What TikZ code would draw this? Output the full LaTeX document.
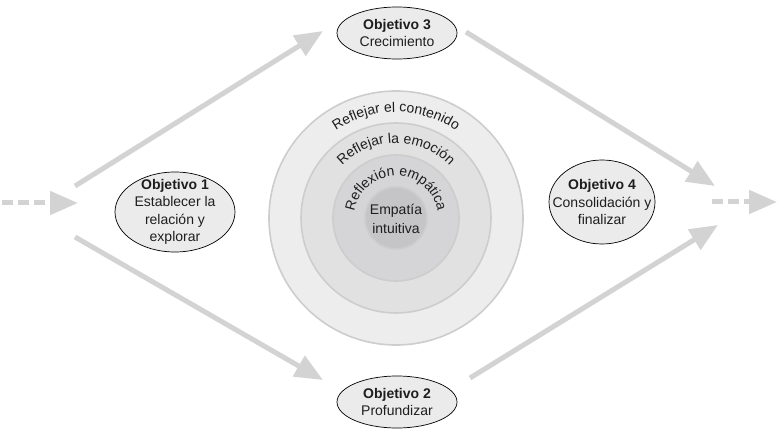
\documentclass[tikz,border=0pt]{standalone}
\usepackage{fontspec}
\setmainfont{Liberation Sans}
\usetikzlibrary{shapes.geometric,arrows.meta,decorations.text}

\definecolor{flowgray}{HTML}{D3D3D3}
\definecolor{ringA}{HTML}{EDEDED}
\definecolor{ringB}{HTML}{E1E1E2}
\definecolor{ringC}{HTML}{D5D5D7}
\definecolor{ringD}{HTML}{C5C5C7}
\definecolor{ringedge}{HTML}{CDCDCD}
\definecolor{goalfill}{HTML}{EBEBEB}
\definecolor{inktext}{HTML}{1E1E1E}

\newcommand{\labelfont}{\fontsize{14}{17.5}\selectfont}

\tikzset{
  goal/.style={ellipse, draw=black, line width=0.7pt, fill=goalfill, inner sep=0pt},
  goaltext/.style={align=center, text=inktext, font=\labelfont, inner sep=0pt},
  flow/.style={draw=flowgray, line width=5pt, -{Triangle[length=28pt,width=23pt]}},
  flowdash/.style={flow, dash pattern=on 11pt off 5pt},
  ring/.style={draw=ringedge, line width=1.6pt},
  ringlabel/.style={decorate, decoration={text along path, text align=center,
      text color=inktext}}
}

\begin{document}
\begin{tikzpicture}[x=1pt,y=-1pt]
  \useasboundingbox[fill=white] (0,0) rectangle (778,430);

  % concentric levels of reflection
  \coordinate (c) at (396,218);
  \fill[ringA] (c) circle[radius=127];
  \draw[ring] (c) circle[radius=127];
  \fill[ringB] (c) circle[radius=95];
  \draw[ring] (c) circle[radius=95];
  \fill[ringC] (c) circle[radius=63];
  \draw[ring] (c) circle[radius=63];
  \fill[ringD] (c) circle[radius=31];
  \draw[ring] (c) circle[radius=31];

  \path[ringlabel, decoration={text={|\labelfont|Reflejar el contenido}}]
    (c) ++(180:106) arc[start angle=180, end angle=360, radius=106];
  \path[ringlabel, decoration={text={|\labelfont|Reflejar la emoción}}]
    (c) ++(180:75) arc[start angle=180, end angle=360, radius=75];
  \path[ringlabel, decoration={text={|\labelfont|Reflexión empática}}]
    (c) ++(180:42) arc[start angle=180, end angle=360, radius=42];
  \node[goaltext, font=\fontsize{14}{19}\selectfont] (core) at (396,219) {Empatía\\intuitiva};

  % goals
  \node[goal, minimum width=120pt, minimum height=80pt] (o1) at (175,212) {};
  \node[goaltext] (o1t) at (o1) {\textbf{Objetivo 1}\\Establecer la\\relación y\\explorar};
  \node[goal, minimum width=120pt, minimum height=52pt] (o3) at (397,33) {};
  \node[goaltext] (o3t) at (o3) {\textbf{Objetivo 3}\\Crecimiento};
  \node[goal, minimum width=120pt, minimum height=52pt] (o2) at (397,402) {};
  \node[goaltext] (o2t) at (o2) {\textbf{Objetivo 2}\\Profundizar};
  \node[goal, minimum width=106pt, minimum height=84pt] (o4) at (602,202) {};
  \node[goaltext] (o4t) at (o4) {\textbf{Objetivo 4}\\Consolidación y\\finalizar};

  % flow between the goals
  \coordinate (inS) at (2,203);
  \coordinate (inE) at (78,203);
  \coordinate (upS) at (75,186);
  \coordinate (upE) at (323,31);
  \coordinate (dnS) at (75,237);
  \coordinate (dnE) at (323,380);
  \coordinate (rtS) at (466,32);
  \coordinate (rtE) at (715,186);
  \coordinate (rbS) at (470,378);
  \coordinate (rbE) at (718,225);
  \coordinate (outS) at (712,202);
  \coordinate (outE) at (777,202);

  \draw[flowdash] (inS) -- (inE);
  \draw[flow] (upS) -- (upE);
  \draw[flow] (dnS) -- (dnE);
  \draw[flow] (rtS) -- (rtE);
  \draw[flow] (rbS) -- (rbE);
  \draw[flowdash] (outS) -- (outE);
\end{tikzpicture}
\end{document}
